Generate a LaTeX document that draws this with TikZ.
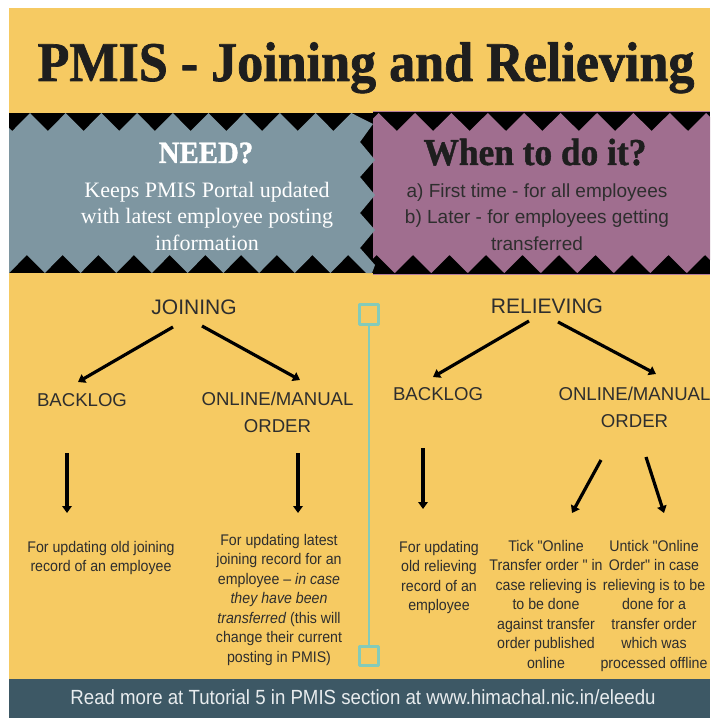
\documentclass[tikz,border=0pt]{standalone}
\usepackage{fontspec}
\setmainfont{Liberation Sans}
\newfontfamily\headfont[FakeStretch=0.93,FakeBold=1.2]{Liberation Serif}
\newfontfamily\slabfont{Liberation Serif}
\newfontfamily\bodyfont[FakeStretch=0.92]{Liberation Sans}
\newfontfamily\barfont[FakeStretch=0.91]{Liberation Sans}
\usetikzlibrary{arrows.meta}

\definecolor{bgyellow}{HTML}{F6CA62}
\definecolor{needgray}{HTML}{7E96A1}
\definecolor{whenpurple}{HTML}{A06E8F}
\definecolor{purpleline}{HTML}{B07A9C}
\definecolor{tealline}{HTML}{84CBB9}
\definecolor{barslate}{HTML}{3D5865}
\definecolor{ink}{HTML}{1E1E1E}
\definecolor{inkgray}{HTML}{2E2E2E}
\definecolor{barwhite}{HTML}{E8ECEE}

\begin{document}
\begin{tikzpicture}[x=1pt, y=-1pt, line join=bevel]

    % multi-line nodes: anchor=base sits on the last line
    \tikzset{%
      head_text/.style  = {font=\fontsize{18.6}{26.5}\selectfont, text=inkgray,
                           align=center, inner sep=0pt, anchor=base},
      body_text/.style  = {font=\bodyfont\fontsize{15.4}{19.5}\selectfont, text=inkgray,
                           align=center, inner sep=0pt, anchor=base},
      arrow_line/.style = {line width=3.2pt, -{Triangle[length=7pt,width=9.5pt]}},
      divider/.style    = {draw=tealline, line width=2.6pt},
      divider_box/.style = {divider, minimum size=19.5pt, inner sep=0pt}
    }

    \useasboundingbox (0,0) rectangle (710,719);
    \fill[white] (0,0) rectangle (710,719);
    \fill[bgyellow] (9,8) rectangle (710,679);
    \fill[barslate] (9,679) rectangle (710,718);

    % title
    \node[font=\headfont\bfseries\fontsize{56}{60}\selectfont, text=ink, anchor=base]
      (title) at (366,81) {PMIS - Joining and Relieving};

    % black band behind the two zigzag panels
    \fill[black] (9,113) rectangle (710,273);
    \fill[black] (373,111.5) rectangle (710,274.5);
    \draw[purpleline, line width=1pt] (373,111.5) -- (710,111.5);
    \draw[purpleline, line width=1pt] (373,274.5) -- (710,274.5);

    % purple panel: teeth on top and bottom
    \fill[whenpurple] (373,118.5) -- (378.6,113)
      \foreach \m in {0,...,8} { -- ({396.8+36.4*\m},131) -- ({415+36.4*\m},113) }
      -- (710,117) -- (710,260) -- (705,255)
      \foreach \m in {0,...,8} { -- ({686.75-36.5*\m},273) -- ({668.5-36.5*\m},255) }
      -- (373,258.5) -- cycle;

    % gray panel: teeth on top, right and bottom
    \fill[needgray] (9,128) -- (12.3,131)
      \foreach \m in {0,...,8} { -- ({30+35.7*\m},113) -- ({47.85+35.7*\m},131) }
      -- (351.3,113) -- (373,124)
      \foreach \ya/\yb in {142/160, 177/195, 213/230, 248/265} { -- (360,\ya) -- (375,\yb) }
      -- (372,273) -- (366.15,273)
      \foreach \m in {9,8,...,0} { -- ({26.85+35.7*\m},255) -- ({9.15+35.7*\m},273) }
      -- cycle;

    \node[font=\headfont\bfseries\fontsize{31}{36}\selectfont, text=white, anchor=base]
      (need) at (206,163) {NEED?};
    \node[font=\slabfont\fontsize{22}{26.5}\selectfont, text=white, align=center, anchor=base]
      (need_text) at (207,250) {Keeps PMIS Portal updated\\with latest employee posting\\information};
    \node[font=\headfont\bfseries\fontsize{38}{40}\selectfont, text=ink, anchor=base]
      (when) at (535,165) {When to do it?};
    \node[font=\fontsize{19}{26.5}\selectfont, text=inkgray, align=center, anchor=base]
      (when_text) at (537,250) {a) First time - for all employees\\b) Later - for employees getting\\transferred};

    % tree headings
    \node[head_text, font=\fontsize{21}{26.5}\selectfont] (joining) at (194,314) {JOINING};
    \node[head_text] (j_backlog) at (82,406) {BACKLOG};
    \node[head_text] (j_order) at (277.5,432) {ONLINE/MANUAL\\ORDER};
    \node[head_text, font=\fontsize{21}{26.5}\selectfont] (relieving) at (547,313) {RELIEVING};
    \node[head_text] (r_backlog) at (438,400) {BACKLOG};
    \node[head_text] (r_order) at (634.5,427) {ONLINE/MANUAL\\ORDER};

    % leaf texts
    \node[body_text] (j_old) at (101,571.5) {For updating old joining\\record of an employee};
    \node[body_text] (j_new) at (279,662) {For updating latest\\joining record for an\\employee – \textit{in case}\\\textit{they have been}\\\textit{transferred} (this will\\change their current\\posting in PMIS)};
    \node[body_text] (r_old) at (439,610.5) {For updating\\old relieving\\record of an\\employee};
    \node[body_text] (r_tick) at (546,668) {Tick "Online\\Transfer order " in\\case relieving is\\to be done\\against transfer\\order published\\online};
    \node[body_text] (r_untick) at (654,668) {Untick "Online\\Order" in case\\relieving is to be\\done for a\\transfer order\\which was\\processed offline};

    % arrow ends
    \coordinate (jb_from) at (173,327);  \coordinate (jb_to) at (78,382);
    \coordinate (jo_from) at (202,326);  \coordinate (jo_to) at (300,380);
    \coordinate (jbd_from) at (67,453);  \coordinate (jbd_to) at (67,513);
    \coordinate (jod_from) at (298,453); \coordinate (jod_to) at (298,513);
    \coordinate (rb_from) at (529,321);  \coordinate (rb_to) at (433,377);
    \coordinate (ro_from) at (558,322);  \coordinate (ro_to) at (656,374);
    \coordinate (rbd_from) at (423,448); \coordinate (rbd_to) at (423,509);
    \coordinate (rt_from) at (601,460);  \coordinate (rt_to) at (572,513);
    \coordinate (ru_from) at (646,457);  \coordinate (ru_to) at (664,513);

    \foreach \a in {jb, jo, jbd, jod, rb, ro, rbd, rt, ru} {
      \draw[arrow_line] (\a_from) -- (\a_to);
    }

    % divider between joining and relieving
    \node[divider_box] (div_top) at (369,314.5) {};
    \node[divider_box] (div_bot) at (369,656) {};
    \draw[divider] (div_top) -- (div_bot);

    % footer
    \node[font=\barfont\fontsize{20.5}{24}\selectfont, text=barwhite, anchor=base]
      (more) at (363,704) {Read more at Tutorial 5 in PMIS section at www.himachal.nic.in/eleedu};

\end{tikzpicture}
\end{document}
